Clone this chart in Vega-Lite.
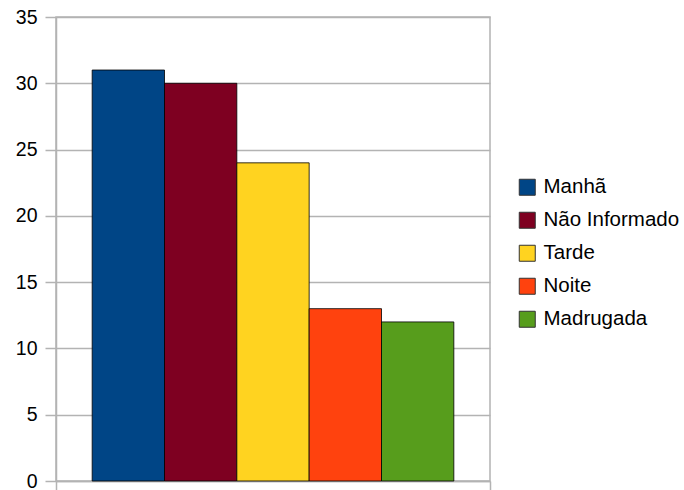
{
  "$schema": "https://vega.github.io/schema/vega-lite/v6.json",
  "autosize": "none",
  "width": 434,
  "height": 464,
  "padding": {"left": 56, "top": 17, "right": 194, "bottom": 9},
  "background": "white",
  "config": {
    "font": "Liberation Sans",
    "view": {"stroke": "#b3b3b3", "strokeWidth": 1.5}
  },
  "data": {
    "values": [
      {"g": "", "periodo": "Manhã", "valor": 31},
      {"g": "", "periodo": "Não Informado", "valor": 30},
      {"g": "", "periodo": "Tarde", "valor": 24},
      {"g": "", "periodo": "Noite", "valor": 13},
      {"g": "", "periodo": "Madrugada", "valor": 12}
    ]
  },
  "mark": {"type": "bar", "stroke": "#000000", "strokeWidth": 1, "strokeOpacity": 0.8},
  "encoding": {
    "x": {
      "field": "g",
      "type": "nominal",
      "title": null,
      "scale": {"paddingInner": 0, "paddingOuter": 0},
      "axis": {
        "labels": false,
        "tickBand": "extent",
        "tickSize": 9,
        "tickColor": "#b3b3b3",
        "tickWidth": 1.5,
        "domainColor": "#b3b3b3",
        "domainWidth": 1.5
      }
    },
    "xOffset": {
      "field": "periodo",
      "type": "nominal",
      "sort": ["Manhã", "Não Informado", "Tarde", "Noite", "Madrugada"],
      "scale": {"paddingInner": 0, "paddingOuter": 0.5}
    },
    "y": {
      "field": "valor",
      "type": "quantitative",
      "title": null,
      "scale": {"domain": [0, 35], "nice": false},
      "axis": {
        "values": [0, 5, 10, 15, 20, 25, 30, 35],
        "grid": true,
        "gridColor": "#b3b3b3",
        "gridWidth": 1.5,
        "domainColor": "#b3b3b3",
        "domainWidth": 1.5,
        "tickColor": "#b3b3b3",
        "tickWidth": 1.5,
        "tickSize": 11,
        "labelFontSize": 19.5,
        "labelColor": "#000000",
        "labelPadding": 8,
        "labelFont": "Liberation Sans"
      }
    },
    "color": {
      "field": "periodo",
      "type": "nominal",
      "sort": ["Manhã", "Não Informado", "Tarde", "Noite", "Madrugada"],
      "scale": {
        "domain": ["Manhã", "Não Informado", "Tarde", "Noite", "Madrugada"],
        "range": ["#004586", "#7e0021", "#ffd320", "#ff420e", "#579d1c"]
      },
      "legend": {
        "title": null,
        "orient": "none",
        "legendX": 461,
        "legendY": 160,
        "symbolType": "square",
        "symbolSize": 256,
        "symbolStrokeColor": "#333333",
        "symbolStrokeWidth": 1,
        "symbolOpacity": 1,
        "labelFontSize": 20.5,
        "labelColor": "#000000",
        "labelFont": "Liberation Sans",
        "labelOffset": 6,
        "rowPadding": 12,
        "labelLimit": 300
      }
    }
  }
}
